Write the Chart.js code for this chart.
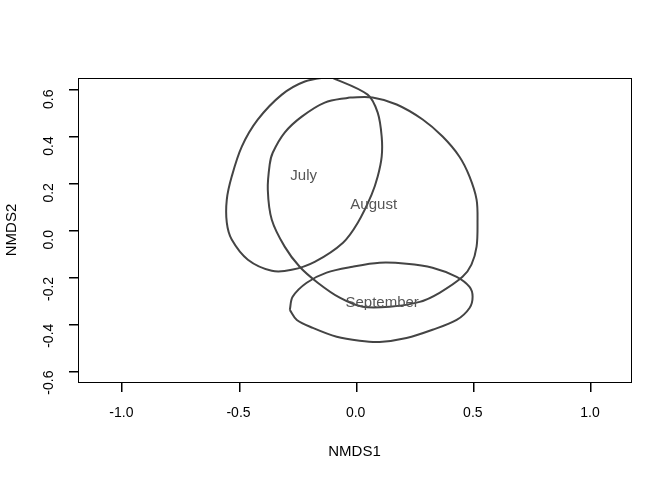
<!DOCTYPE html>
<html>
<head>
<meta charset="utf-8">
<script src="https://cdn.jsdelivr.net/npm/chart.js@4/dist/chart.umd.min.js"></script>
<style>
  html, body { margin: 0; padding: 0; background: #fff; }
  #wrap { width: 672px; height: 480px; }
</style>
</head>
<body>
<div id="wrap"><canvas id="nmds"></canvas></div>
<script>
// groups and their label positions (centroids)
const groups = ['July', 'August', 'September'];
const centroidX = [-0.222, 0.077, 0.113];
const centroidY = [0.232, 0.108, -0.311];

// ellipse outlines
const julyX = [-0.111, 0.051, 0.094, 0.111, 0.111, 0.094, 0.068, 0.009, -0.054, -0.175, -0.273, -0.358, -0.460, -0.529, -0.550, -0.550, -0.529, -0.486, -0.418, -0.315, -0.217];
const julyY = [0.655, 0.578, 0.501, 0.399, 0.313, 0.228, 0.151, 0.031, -0.054, -0.136, -0.170, -0.174, -0.127, -0.041, 0.031, 0.130, 0.228, 0.356, 0.471, 0.578, 0.634];

const augustX = [-0.026, 0.072, 0.175, 0.286, 0.371, 0.443, 0.486, 0.516, 0.520, 0.516, 0.494, 0.456, 0.358, 0.273, 0.145, 0.030, -0.068, -0.162, -0.239, -0.303, -0.358, -0.375, -0.367, -0.354, -0.303, -0.230, -0.132];
const augustY = [0.566, 0.566, 0.536, 0.472, 0.399, 0.313, 0.228, 0.130, 0.031, -0.071, -0.148, -0.200, -0.268, -0.307, -0.328, -0.328, -0.289, -0.225, -0.157, -0.071, 0.044, 0.172, 0.279, 0.330, 0.416, 0.484, 0.544];

const septemberX = [-0.281, -0.269, -0.209, -0.124, -0.013, 0.102, 0.217, 0.328, 0.431, 0.486, 0.499, 0.486, 0.431, 0.328, 0.217, 0.102, 0.017, -0.081, -0.183, -0.251];
const septemberY = [-0.341, -0.285, -0.225, -0.182, -0.157, -0.140, -0.144, -0.161, -0.200, -0.243, -0.285, -0.333, -0.384, -0.426, -0.461, -0.478, -0.473, -0.456, -0.418, -0.384];

// axis ticks
const xTicks = [-1.0, -0.5, 0.0, 0.5, 1.0];
const yTicks = [-0.6, -0.4, -0.2, 0.0, 0.2, 0.4, 0.6];

const lineCol = '#444444';
const font = 'Arial, "Liberation Sans", sans-serif';

// closed outline -> points, first point repeated at the end
function outline(xs, ys) {
    const pts = xs.map((x, i) => ({x: x, y: ys[i]}));
    pts.push({x: xs[0], y: ys[0]});
    return pts;
}

const outlines = [outline(julyX, julyY), outline(augustX, augustY), outline(septemberX, septemberY)];

const datasets = outlines.map((pts, i) => ({
    label: groups[i],
    data: pts,
    showLine: true,
    borderColor: lineCol,
    borderWidth: 2,
    pointRadius: 0,
    tension: 0.33,
    fill: false
}));

// box round the plot region, tick marks, group labels
const boxAndLabels = {
    id: 'boxAndLabels',
    afterDraw(chart) {
        const {ctx, chartArea: a, scales} = chart;
        ctx.save();
        ctx.strokeStyle = '#000';
        ctx.lineWidth = 1;
        ctx.strokeRect(Math.round(a.left) + 0.5, Math.round(a.top) + 0.5,
                       Math.round(a.right - a.left), Math.round(a.bottom - a.top));
        const bot = Math.round(a.bottom);
        const lft = Math.round(a.left);
        ctx.fillStyle = '#000';
        xTicks.forEach(v => {
            const px = Math.round(scales.x.getPixelForValue(v));
            ctx.fillRect(px, bot, 1.5, 10);
        });
        yTicks.forEach(v => {
            const py = Math.round(scales.y.getPixelForValue(v));
            ctx.fillRect(lft - 9, py, 10, 1.5);
        });
        ctx.fillStyle = '#555555';
        ctx.font = '15px ' + font;
        ctx.textAlign = 'center';
        ctx.textBaseline = 'middle';
        groups.forEach((g, i) => {
            ctx.fillText(g, scales.x.getPixelForValue(centroidX[i]), scales.y.getPixelForValue(centroidY[i]));
        });
        ctx.restore();
    }
};

const conf = {
    type: 'scatter',
    data: {datasets: datasets},
    options: {
        responsive: true,
        maintainAspectRatio: false,
        animation: false,
        layout: {padding: {top: 78, right: 41, left: 0, bottom: 0}},
        plugins: {
            legend: {display: false},
            tooltip: {enabled: false}
        },
        scales: {
            x: {
                type: 'linear',
                min: -1.185,
                max: 1.175,
                afterBuildTicks: s => { s.ticks = xTicks.map(v => ({value: v})); },
                afterFit: s => { s.height = 98; },
                grid: {display: false},
                border: {display: false},
                ticks: {
                    color: '#000',
                    font: {family: font, size: 14},
                    padding: 15,
                    maxRotation: 0,
                    autoSkip: false,
                    callback: v => v.toFixed(1)
                },
                title: {display: true, text: 'NMDS1', color: '#000', font: {family: font, size: 15}, padding: {top: 0, bottom: 19}}
            },
            y: {
                type: 'linear',
                min: -0.649,
                max: 0.649,
                afterBuildTicks: s => { s.ticks = yTicks.map(v => ({value: v})); },
                afterFit: s => { s.width = 78; },
                grid: {display: false},
                border: {display: false},
                ticks: {
                    color: '#000',
                    font: {family: font, size: 14},
                    padding: 21,
                    minRotation: 90,
                    maxRotation: 90,
                    autoSkip: false,
                    callback: v => v.toFixed(1)
                },
                title: {display: true, text: 'NMDS2', color: '#000', font: {family: font, size: 15}, padding: {top: 3, bottom: 0}}
            }
        }
    },
    plugins: [boxAndLabels]
};

const nmdsChart = new Chart(document.getElementById('nmds'), conf);
</script>
</body>
</html>
